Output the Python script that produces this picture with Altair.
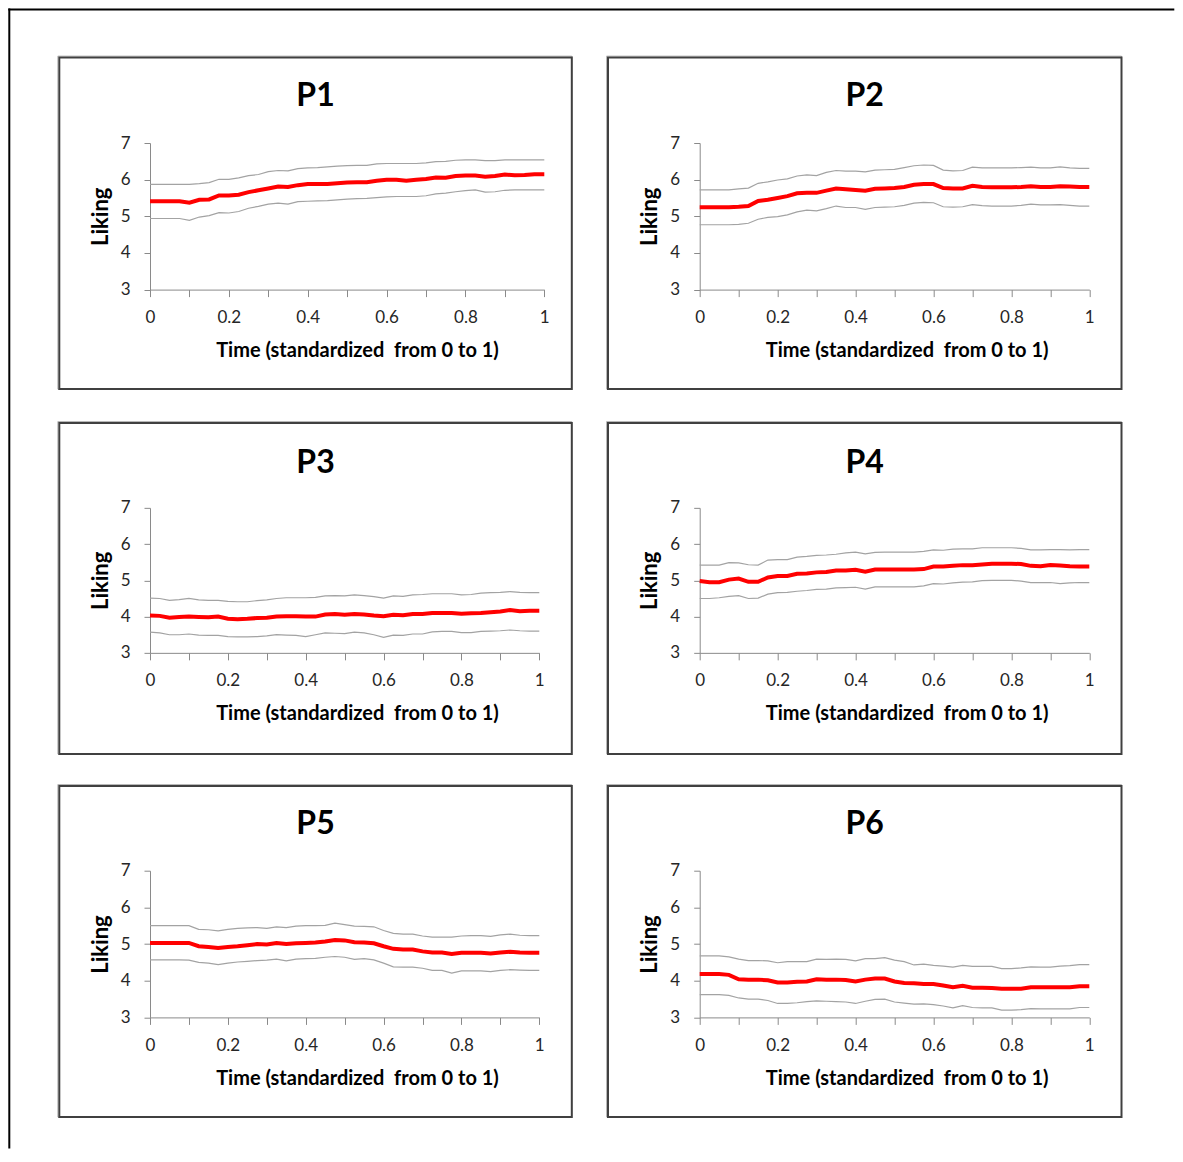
import altair as alt
import pandas as pd

# ---------------- data ----------------
T = [0.0, 0.025, 0.05, 0.075, 0.1, 0.125, 0.15, 0.175, 0.2, 0.225,
     0.25, 0.275, 0.3, 0.325, 0.35, 0.375, 0.4, 0.425, 0.45, 0.475,
     0.5, 0.525, 0.55, 0.575, 0.6, 0.625, 0.65, 0.675, 0.7, 0.725,
     0.75, 0.775, 0.8, 0.825, 0.85, 0.875, 0.9, 0.925, 0.95, 0.975, 1.0]

P1_MEAN = [5.41, 5.41, 5.41, 5.41, 5.37, 5.45, 5.46, 5.57, 5.57, 5.59,
           5.66, 5.71, 5.76, 5.81, 5.80, 5.85, 5.88, 5.88, 5.88, 5.90,
           5.92, 5.93, 5.93, 5.97, 6.00, 6.00, 5.97, 6.00, 6.02, 6.06,
           6.05, 6.10, 6.11, 6.11, 6.08, 6.10, 6.14, 6.12, 6.13, 6.15, 6.15]
P1_UP = [5.87, 5.87, 5.87, 5.87, 5.87, 5.89, 5.92, 6.01, 6.01, 6.05,
         6.11, 6.14, 6.22, 6.25, 6.24, 6.30, 6.32, 6.33, 6.35, 6.37,
         6.38, 6.39, 6.39, 6.43, 6.44, 6.44, 6.44, 6.44, 6.46, 6.49,
         6.50, 6.53, 6.54, 6.54, 6.52, 6.52, 6.54, 6.54, 6.54, 6.54, 6.54]
P1_LO = [4.94, 4.94, 4.94, 4.94, 4.89, 4.98, 5.02, 5.10, 5.09, 5.13,
         5.22, 5.27, 5.33, 5.36, 5.33, 5.40, 5.41, 5.42, 5.43, 5.45,
         5.47, 5.48, 5.49, 5.51, 5.53, 5.54, 5.54, 5.54, 5.56, 5.61,
         5.63, 5.67, 5.70, 5.72, 5.66, 5.67, 5.71, 5.72, 5.72, 5.72, 5.72]

P2_MEAN = [5.25, 5.25, 5.25, 5.25, 5.26, 5.28, 5.42, 5.45, 5.50, 5.55,
           5.63, 5.64, 5.64, 5.70, 5.76, 5.74, 5.72, 5.70, 5.75, 5.76,
           5.77, 5.80, 5.86, 5.88, 5.88, 5.77, 5.76, 5.76, 5.83, 5.80,
           5.79, 5.79, 5.79, 5.80, 5.82, 5.80, 5.80, 5.82, 5.81, 5.80, 5.80]
P2_UP = [5.72, 5.72, 5.72, 5.72, 5.75, 5.77, 5.90, 5.94, 5.99, 6.02,
         6.10, 6.13, 6.11, 6.20, 6.25, 6.23, 6.23, 6.21, 6.26, 6.27,
         6.28, 6.33, 6.38, 6.40, 6.39, 6.26, 6.24, 6.25, 6.34, 6.32,
         6.32, 6.32, 6.32, 6.33, 6.34, 6.32, 6.32, 6.35, 6.32, 6.31, 6.31]
P2_LO = [4.77, 4.77, 4.77, 4.77, 4.78, 4.81, 4.92, 4.97, 4.99, 5.04,
         5.12, 5.17, 5.15, 5.21, 5.28, 5.24, 5.24, 5.19, 5.24, 5.25,
         5.26, 5.30, 5.36, 5.38, 5.37, 5.26, 5.25, 5.26, 5.32, 5.29,
         5.28, 5.28, 5.28, 5.30, 5.33, 5.31, 5.31, 5.32, 5.30, 5.28, 5.28]

P3_MEAN = [4.03, 4.02, 3.97, 3.99, 4.00, 3.99, 3.98, 4.00, 3.94, 3.93,
           3.94, 3.96, 3.97, 4.00, 4.01, 4.01, 4.00, 4.00, 4.06, 4.07,
           4.05, 4.07, 4.06, 4.03, 4.01, 4.05, 4.04, 4.07, 4.07, 4.10,
           4.10, 4.10, 4.08, 4.09, 4.10, 4.12, 4.14, 4.18, 4.15, 4.16, 4.16]
P3_UP = [4.51, 4.50, 4.45, 4.47, 4.50, 4.46, 4.45, 4.45, 4.42, 4.41,
         4.41, 4.44, 4.46, 4.50, 4.52, 4.52, 4.52, 4.53, 4.57, 4.58,
         4.57, 4.60, 4.58, 4.55, 4.51, 4.57, 4.56, 4.60, 4.61, 4.63,
         4.63, 4.63, 4.60, 4.61, 4.65, 4.66, 4.67, 4.69, 4.67, 4.66, 4.66]
P3_LO = [3.57, 3.55, 3.50, 3.50, 3.52, 3.49, 3.48, 3.48, 3.45, 3.44,
         3.44, 3.45, 3.47, 3.50, 3.49, 3.48, 3.45, 3.50, 3.55, 3.54,
         3.53, 3.57, 3.55, 3.50, 3.43, 3.49, 3.48, 3.52, 3.52, 3.58,
         3.59, 3.59, 3.56, 3.56, 3.59, 3.60, 3.61, 3.63, 3.61, 3.60, 3.60]

P4_MEAN = [4.98, 4.95, 4.95, 5.02, 5.05, 4.96, 4.96, 5.08, 5.12, 5.12,
           5.18, 5.19, 5.22, 5.23, 5.27, 5.27, 5.29, 5.24, 5.30, 5.30,
           5.30, 5.30, 5.30, 5.31, 5.38, 5.38, 5.40, 5.42, 5.42, 5.44,
           5.46, 5.46, 5.46, 5.45, 5.40, 5.39, 5.42, 5.41, 5.39, 5.38, 5.38]
P4_UP = [5.42, 5.42, 5.42, 5.49, 5.48, 5.43, 5.42, 5.56, 5.57, 5.57,
         5.64, 5.66, 5.69, 5.70, 5.72, 5.76, 5.78, 5.73, 5.77, 5.78,
         5.78, 5.78, 5.78, 5.80, 5.84, 5.83, 5.86, 5.87, 5.87, 5.90,
         5.90, 5.90, 5.90, 5.88, 5.84, 5.84, 5.85, 5.85, 5.84, 5.85, 5.85]
P4_LO = [4.50, 4.50, 4.52, 4.56, 4.58, 4.50, 4.51, 4.62, 4.66, 4.67,
         4.70, 4.72, 4.75, 4.76, 4.79, 4.80, 4.81, 4.76, 4.82, 4.82,
         4.82, 4.82, 4.82, 4.85, 4.91, 4.90, 4.93, 4.95, 4.96, 4.99,
         5.00, 5.00, 5.00, 4.98, 4.94, 4.94, 4.94, 4.91, 4.93, 4.94, 4.94]

P5_MEAN = [5.03, 5.03, 5.03, 5.03, 5.03, 4.94, 4.92, 4.89, 4.92, 4.94,
           4.97, 5.00, 4.99, 5.03, 5.00, 5.02, 5.03, 5.04, 5.07, 5.11,
           5.10, 5.05, 5.04, 5.02, 4.94, 4.87, 4.85, 4.85, 4.80, 4.77,
           4.77, 4.73, 4.76, 4.76, 4.76, 4.74, 4.77, 4.79, 4.77, 4.76, 4.76]
P5_UP = [5.50, 5.50, 5.50, 5.50, 5.50, 5.40, 5.39, 5.36, 5.40, 5.43,
         5.44, 5.45, 5.43, 5.47, 5.45, 5.49, 5.50, 5.50, 5.51, 5.57,
         5.53, 5.49, 5.48, 5.47, 5.37, 5.29, 5.27, 5.27, 5.22, 5.19,
         5.19, 5.19, 5.22, 5.23, 5.23, 5.21, 5.25, 5.27, 5.24, 5.23, 5.23]
P5_LO = [4.57, 4.57, 4.57, 4.57, 4.56, 4.50, 4.48, 4.44, 4.48, 4.51,
         4.53, 4.55, 4.56, 4.59, 4.54, 4.59, 4.60, 4.61, 4.64, 4.66,
         4.64, 4.58, 4.60, 4.57, 4.48, 4.38, 4.37, 4.37, 4.34, 4.28,
         4.28, 4.21, 4.27, 4.27, 4.27, 4.25, 4.28, 4.30, 4.29, 4.28, 4.28]

P6_MEAN = [4.18, 4.18, 4.18, 4.16, 4.04, 4.03, 4.03, 4.01, 3.95, 3.95,
           3.97, 3.98, 4.04, 4.03, 4.03, 4.02, 3.98, 4.03, 4.06, 4.06,
           3.98, 3.94, 3.93, 3.91, 3.91, 3.87, 3.82, 3.86, 3.81, 3.81,
           3.80, 3.78, 3.78, 3.78, 3.82, 3.82, 3.82, 3.82, 3.82, 3.85, 3.85]
P6_UP = [4.68, 4.68, 4.68, 4.65, 4.59, 4.55, 4.55, 4.54, 4.49, 4.52,
         4.52, 4.52, 4.59, 4.58, 4.59, 4.58, 4.54, 4.60, 4.60, 4.63,
         4.56, 4.52, 4.43, 4.45, 4.42, 4.40, 4.37, 4.42, 4.39, 4.39,
         4.39, 4.33, 4.33, 4.35, 4.38, 4.37, 4.37, 4.40, 4.41, 4.44, 4.44]
P6_LO = [3.62, 3.62, 3.62, 3.60, 3.53, 3.50, 3.50, 3.46, 3.38, 3.38,
         3.40, 3.43, 3.45, 3.44, 3.43, 3.42, 3.38, 3.44, 3.49, 3.50,
         3.42, 3.39, 3.36, 3.37, 3.35, 3.31, 3.26, 3.32, 3.27, 3.26,
         3.26, 3.20, 3.20, 3.21, 3.24, 3.23, 3.23, 3.23, 3.23, 3.27, 3.27]

NAMES = ["P1", "P2", "P3", "P4", "P5", "P6"]
SERIES = {
    "P1": (P1_MEAN, P1_UP, P1_LO), "P2": (P2_MEAN, P2_UP, P2_LO),
    "P3": (P3_MEAN, P3_UP, P3_LO), "P4": (P4_MEAN, P4_UP, P4_LO),
    "P5": (P5_MEAN, P5_UP, P5_LO), "P6": (P6_MEAN, P6_UP, P6_LO),
}
X_TICKS = [0, 0.1, 0.2, 0.3, 0.4, 0.5, 0.6, 0.7, 0.8, 0.9, 1]
Y_TICKS = [3, 4, 5, 6, 7]
X_TITLE = "Time (standardized\u00a0 from 0 to 1)"
Y_TITLE = "Liking"

# ---------------- layout (page pixels) ----------------
FONT = "Lato"
COL_X = [149.7, 698.7]
ROW_Y = [142.4, 506.85, 869.7]
WIDTHS = {"P1": 394.3, "P2": 389.6, "P3": 389.3, "P4": 389.6, "P5": 389.3, "P6": 389.6}
HEIGHTS = {"P1": 146.6, "P2": 146.6, "P3": 145.0, "P4": 145.0, "P5": 146.7, "P6": 146.7}
FRAME_X = [(58, 572.5), (606, 1121.5)]
FRAME_Y = [(56, 389.5), (421, 754), (784, 1117)]
TITLE_BASE = [105, 471.7, 832.5]


def panel(i, name):
    col, row = i % 2, i // 2
    px, py = COL_X[col], ROW_Y[row]
    w, h = WIDTHS[name], HEIGHTS[name]
    mean, up, lo = SERIES[name]
    n = len(T)
    df = pd.DataFrame({
        "t": T * 3,
        "v": mean + up + lo,
        "s": ["mean"] * n + ["upper"] * n + ["lower"] * n,
    })
    xaxis = alt.Axis(
        values=X_TICKS, grid=False,
        labelExpr="round(datum.value*10) % 2 == 0 ? format(datum.value, '~g') : ''",
        domainColor="#8a8a8a", tickColor="#8a8a8a", domainWidth=1, tickWidth=1,
        tickSize=7, labelPadding=13, labelFont=FONT, labelFontSize=17,
        labelColor="#262626", labelFlush=False,
        title=X_TITLE, titleFont=FONT, titleFontSize=20, titleFontWeight="bold",
        titleColor="#000000", titleX=207, titleY=67, titleAlign="center",
        titleBaseline="alphabetic",
    )
    yaxis = alt.Axis(
        values=Y_TICKS, grid=False,
        domainColor="#8a8a8a", tickColor="#8a8a8a", domainWidth=1, tickWidth=1,
        tickSize=6, labelPadding=14, labelFont=FONT, labelFontSize=17,
        labelColor="#262626",
        title=Y_TITLE, titleFont=FONT, titleFontSize=22, titleFontWeight="bold",
        titleColor="#000000", titleX=-50, titleY=h / 2, titleAngle=270,
        titleAlign="center", titleBaseline="middle",
    )
    x = alt.X("t:Q", scale=alt.Scale(domain=[0, 1], nice=False, zero=False), axis=xaxis)
    y = alt.Y("v:Q", scale=alt.Scale(domain=[3, 7], nice=False, zero=False), axis=yaxis)
    base = alt.Chart(df)
    bands = base.transform_filter("datum.s != 'mean'").mark_line(
        color="#a3a3a3", strokeWidth=1.2).encode(x=x, y=y, detail="s:N")
    avg = base.transform_filter("datum.s == 'mean'").mark_line(
        color="#ff0000", strokeWidth=4).encode(x=x, y=y)

    deco = alt.Chart(pd.DataFrame({"name": [name]}))
    fx0, fx1 = FRAME_X[col]
    fy0, fy1 = FRAME_Y[row]
    frame_light = deco.mark_rect(fillOpacity=0, stroke="#b8b8b8", strokeWidth=1).encode(
        x=alt.value(fx0 - 0.5 - px), x2=alt.value(fx1 - 1 - px),
        y=alt.value(fy0 - 0.5 - py), y2=alt.value(fy1 - 1 - py))
    frame = deco.mark_rect(fillOpacity=0, stroke="#404040", strokeWidth=2).encode(
        x=alt.value(fx0 + 1 - px), x2=alt.value(fx1 - 1 - px),
        y=alt.value(fy0 + 1 - py), y2=alt.value(fy1 - 1 - py))
    title = deco.mark_text(font=FONT, fontSize=32, fontWeight="bold", color="#000000",
                           align="center", baseline="alphabetic").encode(
        text="name:N",
        x=alt.value((fx0 + fx1) / 2 - px),
        y=alt.value(TITLE_BASE[row] - py))
    layers = [frame_light, frame, bands, avg, title]
    if i == 0:
        # outer figure border (filled bars, no stroke so bounds are exact)
        top = deco.mark_rect(color="#000000", strokeWidth=0).encode(
            x=alt.value(8 - px), x2=alt.value(1174 - px),
            y=alt.value(8 - py), y2=alt.value(10 - py))
        left = deco.mark_rect(color="#000000", strokeWidth=0).encode(
            x=alt.value(8 - px), x2=alt.value(10 - px),
            y=alt.value(8 - py), y2=alt.value(1148 - py))
        layers += [top, left]
    return alt.layer(*layers).properties(width=w, height=h)


charts = [panel(i, nm) for i, nm in enumerate(NAMES)]
chart = alt.concat(
    *charts, columns=2,
    spacing={"row": 217.85, "column": 154.7},
    bounds="flush", align="each",
).properties(padding=0, background="white").configure_view(stroke=None)

chart.save("out.html", embed_options={"renderer": "svg", "actions": False})
